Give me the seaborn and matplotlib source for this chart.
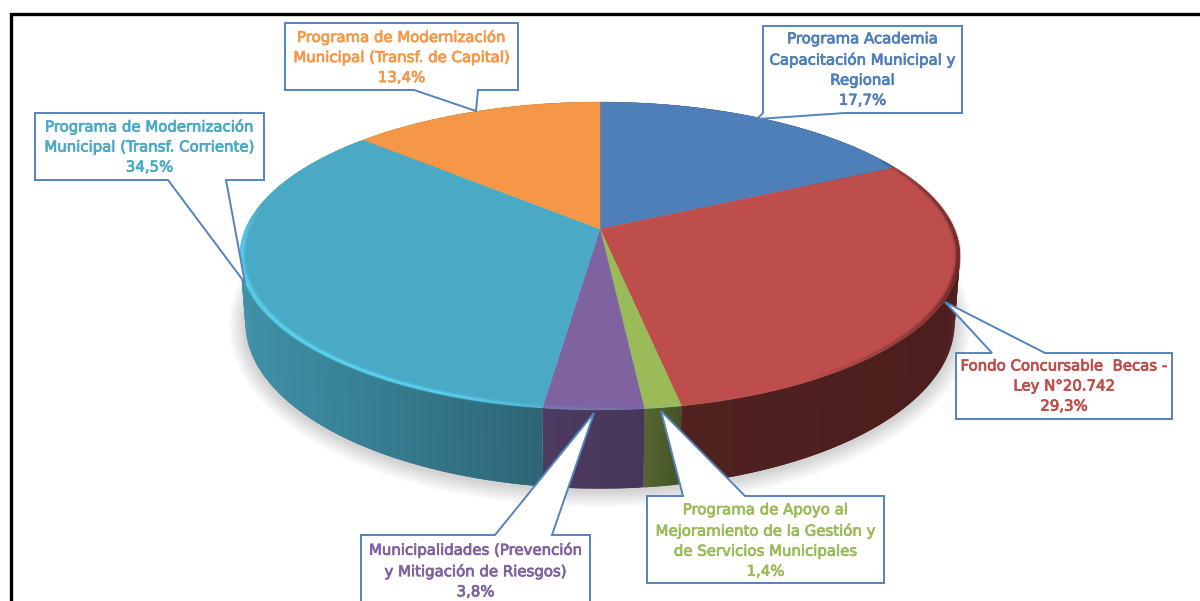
import numpy as np
import seaborn as sns
import matplotlib
matplotlib.use("Agg")
import matplotlib.pyplot as plt
import matplotlib.patheffects as pe
from matplotlib.collections import LineCollection, PolyCollection

# Data, clockwise from 12 o'clock
labels = ["Programa Academia\nCapacitación Municipal y\nRegional",
          "Fondo Concursable  Becas -\nLey N°20.742",
          "Programa de Apoyo al\nMejoramiento de la Gestión y\nde Servicios Municipales",
          "Municipalidades (Prevención\ny Mitigación de Riesgos)",
          "Programa de Modernización\nMunicipal (Transf. Corriente)",
          "Programa de Modernización\nMunicipal (Transf. de Capital)"]
values = [17.7, 29.3, 1.4, 3.8, 34.5, 13.4]
value_labels = ["17,7%", "29,3%", "1,4%", "3,8%", "34,5%", "13,4%"]
colors = ["#4E7FB9", "#BD4E4B", "#9BBB59", "#7F62A0", "#4AAAC5", "#F59746"]

# Callouts in pixels: box (x0, y0, x1, y1), tail base x pair, tail tip
boxes = [(763, 26, 962, 113), (956, 353, 1172, 419), (647, 496, 884, 583),
         (361, 535, 590, 612), (35, 113, 264, 180), (285, 23, 518, 90)]
tail_base = [(763, 845), (992, 1045), (683, 745), (495, 552), (168, 226), (414, 478)]
tail_tip = [(757, 119), (945, 302), (661, 411), (594, 413), (245, 283), (476, 111)]
text_y = [69.5, 386, 540.5, 570.5, 146.5, 57]

sns.set_theme(style="white")
plt.rcParams['font.family'] = ['DejaVu Sans']
palette = sns.color_palette(colors)

# Perspective of the disc
cx, cy = 600, 229
a, b, k = 354.4, 149.2, 0.175


def project(theta, r=1.0):
    u, v = r * np.sin(theta), r * np.cos(theta)
    w = 1 + k * v
    return cx + a * u / w, cy - b * v / w, w


def bottom(theta):
    x, y, w = project(theta)
    return cx + (x - cx) * 0.985, y + 65 / w


fig, ax = plt.subplots(figsize=(12, 6.01), dpi=100)
fig.subplots_adjust(0, 0, 1, 1)
ax.set_xlim(0, 1200)
ax.set_ylim(601, 0)
ax.axis("off")

edges = np.cumsum([0] + values) / sum(values) * 2 * np.pi

# Soft shadow under the disc
t = np.linspace(0, 2 * np.pi, 361)
xb, yb = bottom(t)
for i in range(1, 12):
    ax.fill(xb, yb + 2, fc="none", ec="black", alpha=0.016, lw=i * 2.2, joinstyle="round")

# Side wall, each facet overlaps the next so no seams show
wall_x = [245, 540, 640, 690, 960]
wall_f = [0.85, 0.60, 0.56, 0.42, 0.40]
for n, col in enumerate(palette):
    t = np.linspace(edges[n], edges[n + 1], max(int(np.degrees(edges[n + 1] - edges[n])) * 2, 4))
    xt, yt, _ = project(t)
    xb, yb = bottom(t)
    polys, face = [], []
    for j in range(len(t) - 1):
        e = min(j + 2, len(t) - 1)
        polys.append([(xt[j], yt[j]), (xt[e], yt[e]), (xb[e], yb[e]), (xb[j], yb[j])])
        f = np.interp(0.5 * (xt[j] + xt[j + 1]), wall_x, wall_f)
        face.append(tuple(np.array(col) * f))
    ax.add_collection(PolyCollection(polys, facecolors=face, edgecolors="none", zorder=2))

# Top of the pie
for n, col in enumerate(palette):
    t = np.linspace(edges[n], edges[n + 1], 200)
    xt, yt, _ = project(t)
    ax.fill(np.r_[cx, xt], np.r_[cy, yt], color=col, lw=0.3, zorder=3)

# Bevel along the rim: dark on the right, light on the front and left
t = np.radians(np.arange(60, 300, 0.5))
deg = np.degrees(t[:-1]) + 0.25
dark = np.interp(deg, [62, 85, 105, 125, 150], [0.1, 0.5, 0.8, 0.35, 0.0])
light = np.interp(deg, [165, 188, 197, 215, 262, 280], [0.0, 0.12, 0.55, 0.8, 0.75, 0.0])
for r, gain in [(1.0, 0.45), (0.996, 1.0), (0.992, 0.65), (0.988, 0.25)]:
    p = np.column_stack(project(t, r)[:2])
    segs = np.stack([p[:-1], p[1:]], axis=1)
    rgba = np.zeros((len(segs), 4))
    rgba[:, :3] = (0.36, 0.84, 0.96)
    rgba[:, 3] = light * gain
    is_dark = deg < 160
    rgba[is_dark, :3] = (0.22, 0.07, 0.07)
    rgba[is_dark, 3] = dark[is_dark] * gain * 0.7
    ax.add_collection(LineCollection(segs, colors=rgba, linewidths=1.8, zorder=4, capstyle="butt"))

# Callouts with their tails
for n, col in enumerate(palette):
    x0, y0, x1, y1 = boxes[n]
    b0, b1 = tail_base[n]
    tip = tail_tip[n]
    if tip[1] < y0 and y0 > 300:
        outline = [(x0, y0), (b0, y0), tip, (b1, y0), (x1, y0), (x1, y1), (x0, y1)]
    else:
        outline = [(x0, y0), (x1, y0), (x1, y1), (b1, y1), tip, (b0, y1), (x0, y1)]
    ax.fill(*zip(*outline), fc="white", ec="#5583BD", lw=1.4, joinstyle="miter", closed=True, zorder=5)
    ax.text((x0 + x1) / 2, text_y[n], labels[n] + "\n" + value_labels[n], color=col,
            ha="center", va="center", fontsize=10.75, linespacing=1.42, zorder=6,
            path_effects=[pe.withStroke(linewidth=0.55, foreground=col)])

# Picture frame, top and left only
ax.plot([10.5, 10.5, 1200], [601, 13.5, 13.5], color="black", lw=2.4, solid_joinstyle="miter", zorder=7)

fig.savefig("out.png", dpi=100)
